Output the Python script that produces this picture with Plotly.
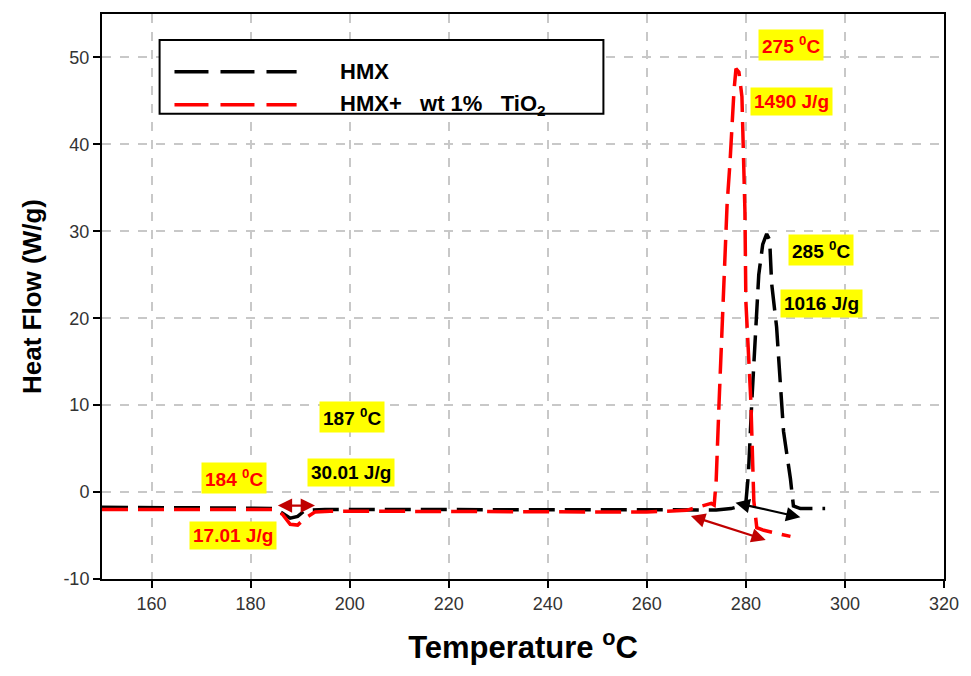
import plotly.graph_objects as go

# ---- data ----
hmx_T = [150, 160, 170, 180, 185, 186.5, 188, 189.5, 191, 195, 200, 220, 240, 260, 270, 274,
         277, 279, 280, 280.5, 281.2, 282, 282.6, 283.4, 284.2, 284.8, 285.2, 286.2, 287.6,
         289, 289.6, 291, 296]
hmx_Q = [-1.75, -1.75, -1.8, -1.85, -1.9, -2.4, -3.0, -2.8, -2.1, -2.0, -2.0, -2.05, -2.1, -2.1,
         -2.1, -2.05, -1.9, -1.6, -1.2, 2.0, 10.5, 18.5, 25.0, 28.5, 29.7, 29.0, 24.0, 19.0, 7.0,
         1.5, -1.6, -1.9, -1.9]

tio_T = [150, 160, 170, 180, 185, 186.5, 188, 189.5, 191, 193, 196, 200, 220, 240, 260, 268,
         271, 273, 273.6, 274, 274.6, 275.4, 276.2, 276.8, 277.2, 277.6, 278, 278.6, 279.2,
         279.4, 279.6, 279.8, 280, 281, 281.6, 282.2, 283.6, 289]
tio_Q = [-2.0, -2.0, -2.0, -2.0, -2.0, -2.6, -3.7, -3.8, -3.0, -2.3, -2.2, -2.2, -2.25, -2.3,
         -2.3, -2.1, -1.6, -1.3, -1.5, 1.3, 10.5, 21.9, 33.0, 38.0, 43.0, 46.2, 48.7, 48.3,
         45.5, 41.0, 37.0, 32.5, 21.9, 10.5, -1.0, -4.1, -4.4, -5.1]

x_ticks = [160, 180, 200, 220, 240, 260, 280, 300, 320]
y_ticks = [-10, 0, 10, 20, 30, 40, 50]

series_names = ["HMX", "HMX+&nbsp;&nbsp; wt 1%&nbsp;&nbsp; TiO<sub>2</sub>"]
series_colors = ["#000000", "#ff0000"]

# annotations: (T, Q, text, color)
labels = [
    (289.2, 51.4, "275 <sup>0</sup>C", "#ff0000"),
    (289.2, 44.9, "1490 J/g", "#ff0000"),
    (295.2, 27.8, "285 <sup>0</sup>C", "#000000"),
    (295.2, 21.7, "1016 J/g", "#000000"),
    (200.4, 8.6, "187 <sup>0</sup>C", "#000000"),
    (200.2, 2.2, "30.01 J/g", "#000000"),
    (176.6, 1.6, "184 <sup>0</sup>C", "#ff0000"),
    (176.4, -5.0, "17.01 J/g", "#ff0000"),
]
# double arrows: (T_from, Q_from, T_to, Q_to, color)
arrows = [
    (185.2, -1.55, 193.0, -1.55, "#c00000"),
    (268.6, -2.7, 284.0, -5.5, "#c00000"),
    (277.6, -1.2, 291.0, -2.9, "#000000"),
]

FONT = "Liberation Sans, Arial, sans-serif"

fig = go.Figure()
fig.add_trace(go.Scatter(x=hmx_T, y=hmx_Q, mode="lines", name="HMX", showlegend=False,
                         line=dict(color=series_colors[0], width=3.5, dash="26px,10px")))
fig.add_trace(go.Scatter(x=tio_T, y=tio_Q, mode="lines", name="HMX+ wt 1% TiO2", showlegend=False,
                         line=dict(color=series_colors[1], width=3.5, dash="26px,10px")))

annotations = []
for (t, q, txt, col) in labels:
    annotations.append(dict(x=t, y=q, xref="x", yref="y", text="<b>" + txt + "</b>",
                            showarrow=False, bgcolor="#ffff00", borderpad=3,
                            font=dict(family=FONT, size=19, color=col)))
for (t0, q0, t1, q1, col) in arrows:
    annotations.append(dict(x=t1, y=q1, ax=t0, ay=q0, xref="x", yref="y", axref="x", ayref="y",
                            text="", showarrow=True, arrowhead=2, startarrowhead=2,
                            arrowside="end+start", arrowsize=1.3, startarrowsize=1.3,
                            arrowwidth=2.2, arrowcolor=col))

# legend (manual, long dashed samples)
shapes = [dict(type="rect", xref="paper", yref="paper", x0=0.0684, x1=0.5955, y0=0.8236, y1=0.954,
               line=dict(color="black", width=2), fillcolor="white", layer="above")]
leg_y = [(579 - 70) / 567, (579 - 103) / 567]
for i in range(2):
    shapes.append(dict(type="line", xref="paper", yref="paper", x0=(175 - 102) / 848, x1=(298 - 102) / 848,
                       y0=leg_y[i], y1=leg_y[i], line=dict(color=series_colors[i], width=3.5, dash="34px,12px"),
                       layer="above"))
    annotations.append(dict(x=(340 - 102) / 848, y=leg_y[i], xref="paper", yref="paper", xanchor="left",
                            yanchor="middle", showarrow=False, text="<b>" + series_names[i] + "</b>",
                            font=dict(family=FONT, size=22, color="black")))

axis_common = dict(showline=True, linecolor="black", linewidth=2, mirror=True,
                   ticks="outside", ticklen=7, tickwidth=2, tickcolor="black",
                   showgrid=True, gridcolor="#c8c8c8", gridwidth=1.5, griddash="dash",
                   zeroline=False, tickfont=dict(family=FONT, size=18, color="#333333"))

fig.update_layout(
    width=971, height=676,
    margin=dict(l=102, r=21, t=12, b=97),
    paper_bgcolor="white", plot_bgcolor="white",
    xaxis=dict(range=[150, 320], tickvals=x_ticks, ticktext=[str(v) for v in x_ticks], **axis_common,
               title=dict(text="<b>Temperature <sup>o</sup>C</b>", standoff=24,
                          font=dict(family=FONT, size=31, color="black"))),
    yaxis=dict(range=[-10, 55], tickvals=y_ticks, ticktext=[str(v) for v in y_ticks], **axis_common,
               title=dict(text="<b>Heat Flow (W/g)</b>", standoff=14,
                          font=dict(family=FONT, size=26, color="black"))),
    annotations=annotations, shapes=shapes,
)

fig.write_html("out.html")
